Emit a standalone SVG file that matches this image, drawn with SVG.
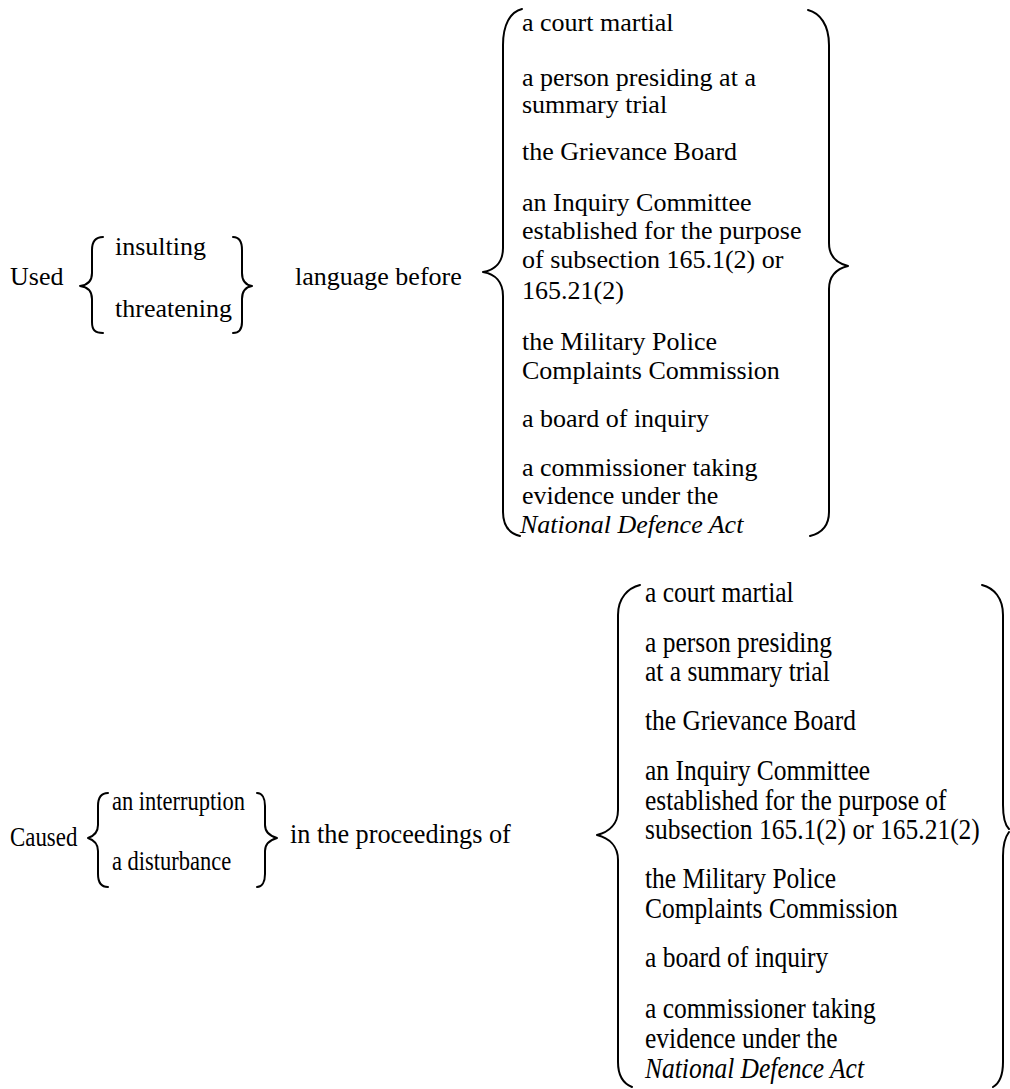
<svg xmlns="http://www.w3.org/2000/svg" width="1010" height="1089" viewBox="0 0 1010 1089">
<style>
text{font-family:"Liberation Serif","Times New Roman",serif;fill:#000;}
.t1{font-size:26px;}
.t2{font-size:25.5px;}
.t3{font-size:22.5px;}
.it{font-style:italic;}
.br{fill:none;stroke:#000;stroke-width:2;stroke-linecap:round;stroke-linejoin:round;}
</style>
<rect width="1010" height="1089" fill="#fff"/>
<g id="connectors">
  <path class="br" d="M103,237 C95,237 92,242 92,250 L92,273 C92,281 88,285 80,286 C88,287 92,291 92,299 L92,322 C92,330 95,333 103,333"/>
  <path class="br" d="M233,237 C239,237 242,242 242,250 L242,273 C242,281 246,285 252,286 C246,287 242,291 242,299 L242,322 C242,330 239,333 233,333"/>
  <path class="br" d="M522,9 C510,12 503,25 503,45 L503,248 C503,262 495,270 483,272 C495,274 503,282 503,296 L503,512 C503,525 508,533 520,536"/>
  <path class="br" d="M808,10 C820,13 829,25 829,45 L829,243 C829,256 836,263 848,266 C836,269 829,276 829,289 L829,512 C829,525 822,533 810,536"/>
  <path class="br" d="M108,793 C101,793 98,798 98,806 L98,825 C98,832 94,836 88,838 C94,840 98,844 98,851 L98,874 C98,882 101,887 108,887"/>
  <path class="br" d="M257,793 C262,793 265,798 265,806 L265,825 C265,832 270,836 277,838 C270,840 265,844 265,851 L265,874 C265,882 262,887 257,887"/>
  <path class="br" d="M640,585 C628,588 618,598 618,615 L618,810 C618,824 609,832 597,835 C609,838 618,846 618,860 L618,1062 C618,1075 622,1083 632,1087"/>
  <path class="br" d="M982,585 C994,588 1003,598 1003,615 L1003,805 C1003,818 1006,826 1009,829 M1009,832 C1006,836 1003,843 1003,856 L1003,1062 C1003,1075 1000,1083 993,1087"/>
</g>
<g id="used"><text class="t1" x="10" y="285">Used</text></g>
<g id="insulting-threatening">
  <text class="t1" x="115" y="255">insulting</text>
  <text class="t1" x="115" y="317">threatening</text>
</g>
<g id="language-before"><text class="t1" x="295" y="285">language before</text></g>
<g id="bodies-1">
  <text class="t1" x="522" y="31">a court martial</text>
  <text class="t1" x="522" y="86">a person presiding at a</text>
  <text class="t1" x="522" y="113">summary trial</text>
  <text class="t1" x="522" y="160">the Grievance Board</text>
  <text class="t1" x="522" y="211">an Inquiry Committee</text>
  <text class="t1" x="522" y="239">established for the purpose</text>
  <text class="t1" x="522" y="268">of subsection 165.1(2) or</text>
  <text class="t1" x="522" y="299">165.21(2)</text>
  <text class="t1" x="522" y="350">the Military Police</text>
  <text class="t1" x="522" y="379">Complaints Commission</text>
  <text class="t1" x="522" y="427">a board of inquiry</text>
  <text class="t1" x="522" y="476">a commissioner taking</text>
  <text class="t1" x="522" y="504">evidence under the</text>
  <text class="t1 it" x="520" y="533">National Defence Act</text>
</g>
<g id="caused"><text class="t1" transform="translate(10,846) scale(0.88,1.05)">Caused</text></g>
<g id="interruption-disturbance">
  <text class="t3" transform="translate(112,810) scale(1,1.2)">an interruption</text>
  <text class="t3" transform="translate(112,870) scale(1,1.2)">a disturbance</text>
</g>
<g id="in-the-proceedings"><text class="t1" transform="translate(290,843) scale(1.01,1.05)">in the proceedings of</text></g>
<g id="bodies-2">
  <text class="t2" transform="translate(645,602) scale(1,1.12)">a court martial</text>
  <text class="t2" transform="translate(645,652) scale(1,1.12)">a person presiding</text>
  <text class="t2" transform="translate(645,681) scale(1,1.12)">at a summary trial</text>
  <text class="t2" transform="translate(645,730) scale(1,1.12)">the Grievance Board</text>
  <text class="t2" transform="translate(645,780) scale(1,1.12)">an Inquiry Committee</text>
  <text class="t2" transform="translate(645,810) scale(1,1.12)">established for the purpose of</text>
  <text class="t2" transform="translate(645,839) scale(1,1.12)">subsection 165.1(2) or 165.21(2)</text>
  <text class="t2" transform="translate(645,888) scale(1,1.12)">the Military Police</text>
  <text class="t2" transform="translate(645,918) scale(1,1.12)">Complaints Commission</text>
  <text class="t2" transform="translate(645,967) scale(1,1.12)">a board of inquiry</text>
  <text class="t2" transform="translate(645,1018) scale(1,1.12)">a commissioner taking</text>
  <text class="t2" transform="translate(645,1048) scale(1,1.12)">evidence under the</text>
  <text class="t2 it" transform="translate(645,1078) scale(1,1.12)">National Defence Act</text>
</g>
</svg>
